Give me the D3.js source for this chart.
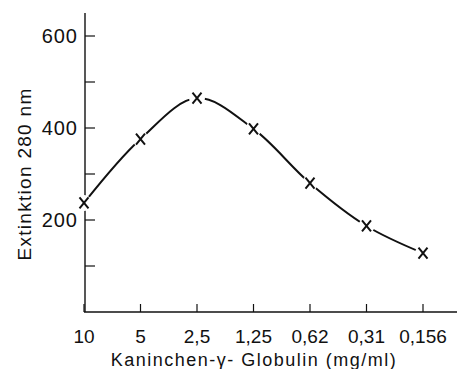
<!DOCTYPE html>
<html>
<head>
<meta charset="utf-8">
<script src="https://cdn.jsdelivr.net/npm/d3@7"></script>
<style>
  body { margin: 0; background: #fff; }
  svg text { font-family: "Liberation Sans", Arial, sans-serif; fill: #111; }
</style>
</head>
<body>
<div id="chart"></div>
<script>
// concentrations (mg/ml), plotted as equally spaced dilution steps
const concentrations = ['10', '5', '2,5', '1,25', '0,62', '0,31', '0,156'];
const extinction = [237, 376, 465, 398, 280, 187, 128];
const yMajorTicks = [200, 400, 600];
const yMinorTicks = [100, 300, 500];

const width = 459, height = 369;
const svg = d3.select('#chart').append('svg')
  .attr('width', width)
  .attr('height', height);

const x = d3.scalePoint()
  .domain(concentrations)
  .range([84, 423]);

const y = d3.scaleLinear()
  .domain([0, 650])
  .range([312, 13]);

const ink = '#111';

// y axis
svg.append('line')
  .attr('x1', 85).attr('x2', 85)
  .attr('y1', y(650)).attr('y2', y(0))
  .attr('stroke', ink).attr('stroke-width', 1.4);

svg.selectAll('.ytick')
  .data(yMajorTicks.concat(yMinorTicks))
  .enter().append('line')
  .attr('class', 'ytick')
  .attr('x1', 85).attr('x2', 95)
  .attr('y1', d => y(d)).attr('y2', d => y(d))
  .attr('stroke', ink).attr('stroke-width', 1.2);

svg.selectAll('.ylabel')
  .data(yMajorTicks)
  .enter().append('text')
  .attr('class', 'ylabel')
  .attr('x', 78)
  .attr('y', d => y(d))
  .attr('dy', '0.36em')
  .attr('text-anchor', 'end')
  .style('font-size', '20px')
  .style('letter-spacing', '1px')
  .text(d => d);

// x axis
svg.append('line')
  .attr('x1', 84).attr('x2', 457)
  .attr('y1', y(0)).attr('y2', y(0))
  .attr('stroke', ink).attr('stroke-width', 1.4);

svg.selectAll('.xtick')
  .data(concentrations)
  .enter().append('line')
  .attr('class', 'xtick')
  .attr('x1', d => x(d)).attr('x2', d => x(d))
  .attr('y1', y(0)).attr('y2', y(0) - 8)
  .attr('stroke', ink).attr('stroke-width', 1.2);

svg.selectAll('.xlabel')
  .data(concentrations)
  .enter().append('text')
  .attr('class', 'xlabel')
  .attr('x', d => x(d))
  .attr('y', 343)
  .attr('text-anchor', 'middle')
  .style('font-size', '19px')
  .text(d => d);

// axis titles
svg.append('text')
  .attr('x', 254)
  .attr('y', 366)
  .attr('text-anchor', 'middle')
  .style('font-size', '18px')
  .style('letter-spacing', '1.5px')
  .text('Kaninchen-γ- Globulin (mg/ml)');

svg.append('text')
  .attr('transform', 'translate(31,174) rotate(-90)')
  .attr('text-anchor', 'middle')
  .style('font-size', '19px')
  .style('letter-spacing', '1.3px')
  .text('Extinktion 280 nm');

// curve
const points = concentrations.map((c, i) => [x(c), y(extinction[i])]);

const line = d3.line().curve(d3.curveCatmullRom.alpha(0.5));
svg.append('path')
  .attr('d', line(points))
  .attr('fill', 'none')
  .attr('stroke', ink)
  .attr('stroke-width', 2);

// gaps around markers
svg.selectAll('.gap')
  .data(points)
  .enter().append('circle')
  .attr('class', 'gap')
  .attr('cx', d => d[0]).attr('cy', d => d[1])
  .attr('r', 8)
  .attr('fill', '#fff');

// x markers
const marker = svg.selectAll('.marker')
  .data(points)
  .enter().append('g')
  .attr('class', 'marker')
  .attr('transform', d => `translate(${d[0]},${d[1]})`);

marker.append('path')
  .attr('d', 'M-4.5,-5.5L4.5,5.5M4.5,-5.5L-4.5,5.5')
  .attr('stroke', ink)
  .attr('stroke-width', 2)
  .attr('fill', 'none');
</script>
</body>
</html>
